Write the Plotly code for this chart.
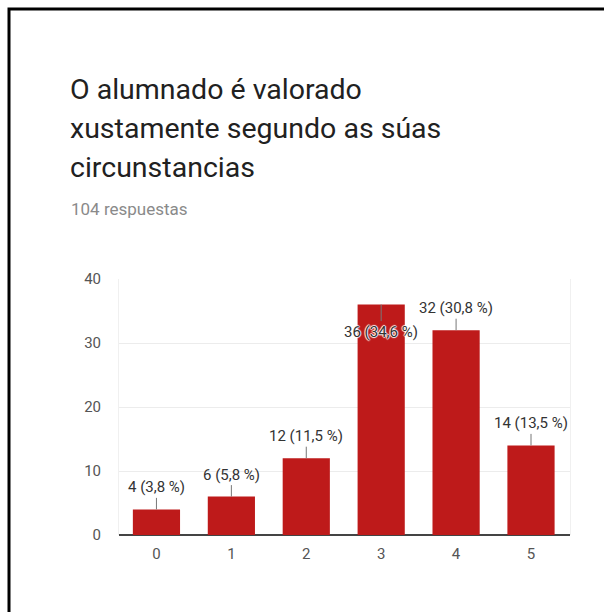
import plotly.graph_objects as go

categories = ["0", "1", "2", "3", "4", "5"]
counts = [4, 6, 12, 36, 32, 14]
labels = ["4 (3,8 %)", "6 (5,8 %)", "12 (11,5 %)", "36 (34,6 %)", "32 (30,8 %)", "14 (13,5 %)"]
title_lines = ["O alumnado é valorado", "xustamente segundo as súas", "circunstancias"]
subtitle = "104 respuestas"
y_ticks = [0, 10, 20, 30, 40]

W, H = 604, 612
L, R, T, B = 119, 34, 279, 77


def px(x):
    return (x - L) / (W - L - R)


def py(y):
    return (H - B - y) / (H - T - B)


fig = go.Figure()
fig.add_trace(go.Bar(x=categories, y=counts, marker=dict(color='#be1a1a', line_width=0),
                     width=0.63, hoverinfo='skip'))

halo = '1px 0 1px white, -1px 0 1px white, 0 1px 1px white, 0 -1px 1px white'
annotations = []
for c, v, t in zip(categories, counts, labels):
    inside = v == max(counts)
    annotations.append(dict(
        x=c, y=v, text=t, showarrow=True, arrowhead=0, arrowwidth=1,
        arrowcolor='#777777', ax=0, ay=27 if inside else -22, standoff=0,
        font=dict(family='Roboto', size=15, color='#333333', shadow=halo if inside else 'none'),
    ))

for i, line in enumerate(title_lines):
    annotations.append(dict(
        xref='paper', yref='paper', x=px(68), y=py(89 + 39 * i), xanchor='left', yanchor='middle',
        text=line, showarrow=False, font=dict(family='Roboto', size=28.5, color='#212121'),
    ))
annotations.append(dict(
    xref='paper', yref='paper', x=px(69), y=py(209), xanchor='left', yanchor='middle',
    text=subtitle, showarrow=False, font=dict(family='Roboto', size=17, color='#8a8a8a'),
))

# frame along the top and left edges only
frame = "M {:.4f},{:.4f} L {:.4f},{:.4f} L {:.4f},{:.4f}".format(
    px(9), py(H), px(9), py(9), px(W), py(9))

fig.update_layout(
    width=W, height=H, margin=dict(l=L, r=R, t=T, b=B, autoexpand=False),
    plot_bgcolor='white', paper_bgcolor='white', showlegend=False,
    annotations=annotations,
    shapes=[dict(type='path', xref='paper', yref='paper', path=frame,
                 line=dict(color='black', width=3))],
)
fig.update_xaxes(showgrid=False, showline=False, tickfont=dict(family='Roboto', size=15, color='#555555'),
                 ticklabelstandoff=8, fixedrange=True)
fig.update_yaxes(range=[0, 40], tickvals=y_ticks, showgrid=True, gridcolor='#ececec', gridwidth=1,
                 zeroline=True, zerolinecolor='#444444', zerolinewidth=1.5,
                 showline=True, linecolor='#f0f0f0', mirror=True,
                 tickfont=dict(family='Roboto', size=15, color='#555555'), ticklabelstandoff=14, fixedrange=True)

fig.write_html("out.html", config={'displayModeBar': False},
               post_script="document.documentElement.style.overflow='hidden';"
                           "document.body.style.margin='0';document.body.style.overflow='hidden';")
